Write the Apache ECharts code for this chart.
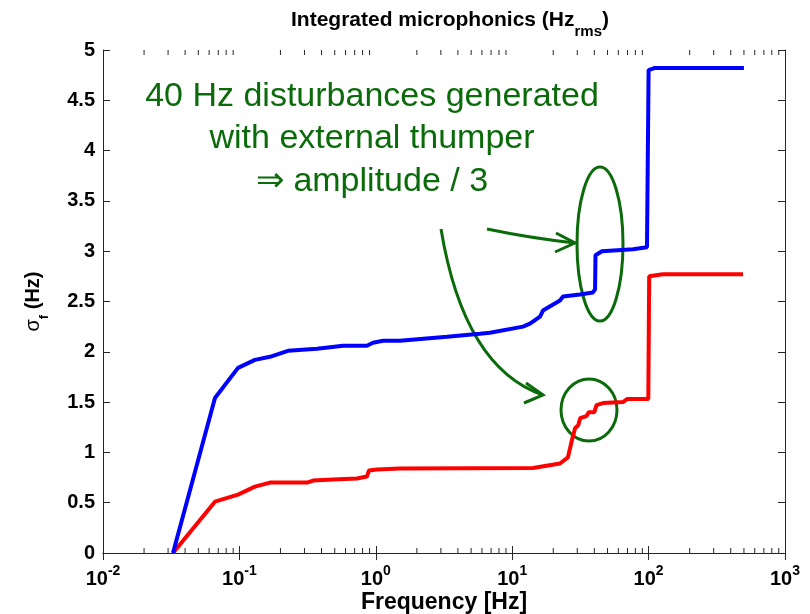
<!DOCTYPE html>
<html>
<head>
<meta charset="utf-8">
<script src="https://cdn.jsdelivr.net/npm/echarts@6/dist/echarts.min.js"></script>
<style>
  html, body { margin: 0; padding: 0; background: #fff; }
  #chart { width: 810px; height: 614px; }
</style>
</head>
<body>
<div id="chart"></div>
<script>
// cavity with thumper disturbance (blue) vs after (red)
const blueFreq = [0.0326, 0.0662, 0.0977, 0.130, 0.1675, 0.227, 0.371, 0.575, 0.861, 0.953, 1.13, 1.50, 3.33, 5.81, 6.87, 12.0, 13.5, 16.0, 16.8, 22.4, 23.6, 31.4, 39.1, 40.5, 40.8, 45.5, 76.9, 97.3, 99.5, 100, 110, 500]
const blueSigma = [0, 1.54, 1.84, 1.92, 1.95, 2.01, 2.03, 2.06, 2.06, 2.09, 2.11, 2.11, 2.15, 2.18, 2.19, 2.25, 2.28, 2.35, 2.41, 2.51, 2.55, 2.57, 2.59, 2.62, 2.96, 3.00, 3.02, 3.04, 3.04, 4.80, 4.82, 4.82]

const redFreq = [0.0326, 0.0662, 0.0977, 0.130, 0.1675, 0.313, 0.347, 0.485, 0.728, 0.861, 0.891, 1.02, 1.50, 14.2, 22.4, 25.6, 27.4, 28.9, 30.5, 31.5, 35.0, 36.5, 40.0, 41.5, 46.3, 64.9, 69.5, 99.5, 101, 127, 492]
const redSigma = [0, 0.51, 0.58, 0.66, 0.70, 0.70, 0.72, 0.73, 0.74, 0.76, 0.82, 0.83, 0.84, 0.845, 0.89, 0.95, 1.12, 1.24, 1.27, 1.34, 1.36, 1.40, 1.40, 1.47, 1.49, 1.50, 1.53, 1.53, 2.75, 2.77, 2.77]

const yTicks = ['0', '0.5', '1', '1.5', '2', '2.5', '3', '3.5', '4', '4.5', '5']
const decades = [-2, -1, 0, 1, 2]
const minorFactors = [2, 3, 4, 5, 6, 7, 8, 9]

const minorTicks = []
decades.forEach(d => {
  minorFactors.forEach(m => minorTicks.push([m * Math.pow(10, d)]))
})

const green = '#0b6b0b'
const font = 'Liberation Sans, Arial, sans-serif'
const axisColor = '#262626'

const chart = echarts.init(document.getElementById('chart'))

const xBase = {
  type: 'log',
  logBase: 10,
  min: 0.01,
  max: 1000,
  axisLine: { show: true, lineStyle: { color: axisColor, width: 1 } },
  axisTick: { show: true, inside: true, length: 7, lineStyle: { color: axisColor } },
  splitLine: { show: false }
}
const yBase = {
  type: 'value',
  min: 0,
  max: 5,
  interval: 0.5,
  axisLine: { show: true, lineStyle: { color: axisColor, width: 1 } },
  axisTick: { show: true, inside: true, length: 7, lineStyle: { color: axisColor } },
  splitLine: { show: false }
}

const annoText = (text, y) => ({
  type: 'text', x: 372, y: y,
  style: { text: text, font: '34px ' + font, fill: green, textAlign: 'center', textVerticalAlign: 'middle' }
})

const options = {
  animation: false,
  backgroundColor: '#fff',
  title: {
    text: 'Integrated microphonics (Hz{sub|rms})',
    left: 450,
    top: 1,
    padding: 0,
    textAlign: 'center',
    textStyle: {
      fontFamily: font,
      fontSize: 21,
      fontWeight: 'bold',
      color: '#000',
      lineHeight: 38,
      rich: {
        sub: { fontFamily: font, fontSize: 15, fontWeight: 'bold', color: '#000', lineHeight: 16, verticalAlign: 'bottom' }
      }
    }
  },
  grid: {
    left: 103,
    right: 25,
    top: 50,
    bottom: 61,
    outerBoundsMode: 'none'
  },
  xAxis: [
    Object.assign({}, xBase, {
      position: 'bottom',
      name: 'Frequency [Hz]',
      nameLocation: 'middle',
      nameGap: 38,
      nameMoveOverlap: false,
      nameTextStyle: { fontFamily: font, fontSize: 23, fontWeight: 'bold', color: '#000' },
      axisLabel: {
        margin: 11,
        formatter: v => '10{sup|' + Math.round(Math.log10(v)) + '}',
        fontFamily: font,
        fontSize: 20,
        fontWeight: 'bold',
        color: '#000',
        lineHeight: 30,
        rich: {
          sup: { fontFamily: font, fontSize: 14, fontWeight: 'bold', color: '#000', lineHeight: 14, verticalAlign: 'top' }
        }
      }
    }),
    Object.assign({}, xBase, {
      position: 'top',
      axisLabel: { show: false }
    })
  ],
  yAxis: [
    Object.assign({}, yBase, {
      position: 'left',
      name: '{s|σ}{sub|f}{b| (Hz)}',
      nameLocation: 'middle',
      nameGap: 52,
      nameMoveOverlap: false,
      nameRotate: 90,
      nameTextStyle: {
        lineHeight: 36,
        rich: {
          s: { fontFamily: font, fontSize: 20, color: '#000', lineHeight: 36 },
          sub: { fontFamily: font, fontSize: 13, fontWeight: 'bold', color: '#000', lineHeight: 14, verticalAlign: 'bottom' },
          b: { fontFamily: font, fontSize: 20, fontWeight: 'bold', color: '#000', lineHeight: 36 }
        }
      },
      axisLabel: {
        margin: 8,
        formatter: v => yTicks[Math.round(v * 2)],
        fontFamily: font,
        fontSize: 20,
        fontWeight: 'bold',
        color: '#000'
      }
    }),
    Object.assign({}, yBase, {
      position: 'right',
      axisLabel: { show: false }
    })
  ],
  graphic: [
    annoText('40 Hz disturbances generated', 97),
    annoText('with external thumper', 139),
    annoText('⇒ amplitude / 3', 182),
    { type: 'ellipse', shape: { cx: 600, cy: 244, rx: 23, ry: 77 }, style: { fill: 'none', stroke: green, lineWidth: 3 } },
    { type: 'ellipse', shape: { cx: 589, cy: 410, rx: 28, ry: 31 }, style: { fill: 'none', stroke: green, lineWidth: 3 } },
    { type: 'bezierCurve', shape: { x1: 487, y1: 229, x2: 575, y2: 243, cpx1: 530, cpy1: 238 }, style: { fill: 'none', stroke: green, lineWidth: 3 } },
    { type: 'polyline', shape: { points: [[556, 233], [575, 243], [555, 252]] }, style: { fill: 'none', stroke: green, lineWidth: 3 } },
    { type: 'bezierCurve', shape: { x1: 441, y1: 229, x2: 543, y2: 395, cpx1: 464, cpy1: 368 }, style: { fill: 'none', stroke: green, lineWidth: 3 } },
    { type: 'polyline', shape: { points: [[526, 383], [543, 395], [524, 403]] }, style: { fill: 'none', stroke: green, lineWidth: 3 } }
  ],
  series: [
    {
      name: 'minor ticks',
      type: 'custom',
      silent: true,
      xAxisIndex: 0,
      yAxisIndex: 0,
      clip: false,
      data: minorTicks,
      encode: { x: 0 },
      renderItem: (params, api) => {
        const f = api.value(0)
        const b = api.coord([f, 0])
        const t = api.coord([f, 5])
        const st = { stroke: axisColor, lineWidth: 1 }
        return {
          type: 'group',
          children: [
            { type: 'line', shape: { x1: b[0], y1: b[1], x2: b[0], y2: b[1] - 5 }, style: st },
            { type: 'line', shape: { x1: t[0], y1: t[1], x2: t[0], y2: t[1] + 5 }, style: st }
          ]
        }
      }
    },
    {
      name: 'red',
      type: 'line',
      data: redFreq.map((f, i) => [f, redSigma[i]]),
      showSymbol: false,
      lineStyle: { color: '#ff0000', width: 4 },
      itemStyle: { color: '#ff0000' }
    },
    {
      name: 'blue',
      type: 'line',
      data: blueFreq.map((f, i) => [f, blueSigma[i]]),
      showSymbol: false,
      lineStyle: { color: '#0000ff', width: 4 },
      itemStyle: { color: '#0000ff' }
    }
  ]
}

chart.setOption(options)
</script>
</body>
</html>
